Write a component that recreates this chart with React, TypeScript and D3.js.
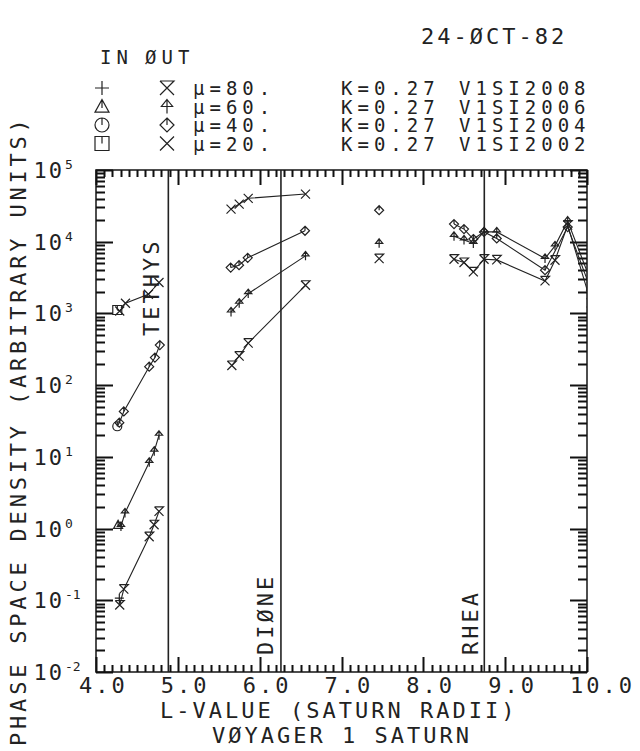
import React from "react";
import * as d3 from "d3";

// ---------- DATA ----------
const X_TICKS = [4, 5, 6, 7, 8, 9, 10];
const X_TICK_LABELS = ["4.0", "5.0", "6.0", "7.0", "8.0", "9.0", "10.0"];
const Y_DECADES = [-2, -1, 0, 1, 2, 3, 4, 5];

const MOON_NAMES = ["TETHYS", "DIØNE", "RHEA"];
const MOON_L = [4.884, 6.26, 8.745];

const LEGEND_MU = ["80.", "60.", "40.", "20."];
const LEGEND_K = ["0.27", "0.27", "0.27", "0.27"];
const LEGEND_ID = ["V1SI2008", "V1SI2006", "V1SI2004", "V1SI2002"];

// mu = 80
const MU80_TETHYS_L = [4.285, 4.29, 4.34, 4.65, 4.71, 4.77];
const MU80_TETHYS_V = [0.107, 0.086, 0.143, 0.77, 1.13, 1.74];
const MU80_DIONE_L = [5.66, 5.75, 5.86, 6.56];
const MU80_DIONE_V = [188, 254, 386, 2470];
const MU80_MID_L = [7.46];
const MU80_MID_V = [5800];
const MU80_RHEA_L = [8.375, 8.497, 8.611, 8.742, 8.897, 9.487, 9.609, 9.764, 10.05];
const MU80_RHEA_V = [5700, 5130, 3790, 5700, 5580, 2840, 5520, 17000, 1400];

// mu = 60
const MU60_TETHYS_L = [4.27, 4.305, 4.354, 4.651, 4.712, 4.77];
const MU60_TETHYS_V = [1.13, 1.07, 1.65, 8.4, 12, 20];
const MU60_DIONE_L = [5.65, 5.75, 5.86, 6.56];
const MU60_DIONE_V = [1047, 1387, 1890, 6350];
const MU60_MID_L = [7.46];
const MU60_MID_V = [9500];
const MU60_RHEA_L = [8.375, 8.497, 8.611, 8.742, 8.897, 9.487, 9.609, 9.764, 10.05];
const MU60_RHEA_V = [11900, 10600, 9460, 13700, 13700, 5840, 8750, 19400, 2760];

// mu = 40
const MU40_TETHYS_L = [4.26, 4.285, 4.34, 4.65, 4.72, 4.78];
const MU40_TETHYS_V = [26.7, 30, 43, 181, 242, 362];
const MU40_DIONE_L = [5.646, 5.748, 5.854, 6.554];
const MU40_DIONE_V = [4360, 4710, 5960, 14200];
const MU40_MID_L = [7.46];
const MU40_MID_V = [27500];
const MU40_RHEA_L = [8.375, 8.497, 8.611, 8.742, 8.897, 9.487, 9.764, 10.05];
const MU40_RHEA_V = [17600, 15000, 10900, 13700, 11100, 4010, 16000, 2100];

// mu = 20
const MU20_TETHYS_L = [4.26, 4.29, 4.36, 4.64, 4.77];
const MU20_TETHYS_V = [1117, 1082, 1387, 1850, 2700];
const MU20_DIONE_L = [5.65, 5.75, 5.86, 6.56];
const MU20_DIONE_V = [28500, 33500, 40300, 46200];

const SERIES = [
  { inShape: "plus", outShape: "hourglass", groups: [[MU80_TETHYS_L, MU80_TETHYS_V], [MU80_DIONE_L, MU80_DIONE_V], [MU80_MID_L, MU80_MID_V], [MU80_RHEA_L, MU80_RHEA_V]] },
  { inShape: "triangle", outShape: "arrow", groups: [[MU60_TETHYS_L, MU60_TETHYS_V], [MU60_DIONE_L, MU60_DIONE_V], [MU60_MID_L, MU60_MID_V], [MU60_RHEA_L, MU60_RHEA_V]] },
  { inShape: "circle", outShape: "diamond", groups: [[MU40_TETHYS_L, MU40_TETHYS_V], [MU40_DIONE_L, MU40_DIONE_V], [MU40_MID_L, MU40_MID_V], [MU40_RHEA_L, MU40_RHEA_V]] },
  { inShape: "square", outShape: "cross", groups: [[MU20_TETHYS_L, MU20_TETHYS_V], [MU20_DIONE_L, MU20_DIONE_V]] },
];

// ---------- LAYOUT ----------
const W = 640;
const H = 751;
const X0 = 96, X1 = 587, Y0 = 170, Y1 = 672;
const INK = "#222";
const FONT = "'DejaVu Sans Mono', monospace";

const x = d3.scaleLinear().domain([4, 10]).range([X0, X1]);
const y = d3.scaleLog().domain([1e-2, 1e5]).range([Y1, Y0]);

function markerPath(shape: string, s: number): string {
  switch (shape) {
    case "plus":
      return `M${-s},0H${s}M0,${-s}V${s}`;
    case "triangle":
      return `M0,${-s}L${s},${s * 0.8}L${-s},${s * 0.8}ZM0,${-s}V${s * 0.2}`;
    case "circle":
      return `M${s},0A${s},${s} 0 1,1 ${-s},0A${s},${s} 0 1,1 ${s},0ZM0,${-s}V0`;
    case "square":
      return `M${-s},${-s}H${s}V${s}H${-s}ZM0,${-s}V0`;
    case "hourglass":
      return `M${-s},${-s}H${s}L${-s},${s}M${-s},${-s}L${s},${s}`;
    case "arrow":
      return `M0,${-s}L${s * 0.8},0H${-s * 0.8}ZM0,${-s}V${s}`;
    case "diamond":
      return `M0,${-s}L${s},0L0,${s}L${-s},0ZM0,${-s}V0`;
    case "cross":
    default:
      return `M${-s},${-s}L${s},${s}M${s},${-s}L${-s},${s}`;
  }
}

const lineGen = d3
  .line<[number, number]>()
  .x((d) => x(d[0]))
  .y((d) => y(d[1]));

const X_MINOR = d3.range(41, 100).filter((i) => i % 10 !== 0).map((i) => i / 10);
const Y_MINOR = y.ticks().filter((v) => Math.abs(Math.log10(v) - Math.round(Math.log10(v))) > 1e-6);
const Y_MAJOR = Y_DECADES.map((d) => Math.pow(10, d));

function tickPathD(): string {
  const parts: string[] = [];
  X_MINOR.forEach((v) => {
    const xv = Math.round(x(v)) + 0.5;
    parts.push(`M${xv} ${Y1} L${xv} ${Y1 - 7}`, `M${xv} ${Y0} L${xv} ${Y0 + 7}`);
  });
  X_TICKS.forEach((v) => {
    const xv = Math.round(x(v)) + 0.5;
    parts.push(`M${xv} ${Y1} L${xv} ${Y1 - 15}`, `M${xv} ${Y0} L${xv} ${Y0 + 15}`);
  });
  Y_MINOR.forEach((v) => {
    const yv = Math.round(y(v)) + 0.5;
    parts.push(`M${X0} ${yv} L${X0 + 9} ${yv}`, `M${X1} ${yv} L${X1 - 9} ${yv}`);
  });
  Y_MAJOR.forEach((v) => {
    const yv = Math.round(y(v)) + 0.5;
    parts.push(`M${X0} ${yv} L${X0 + 17} ${yv}`, `M${X1} ${yv} L${X1 - 17} ${yv}`);
  });
  return parts.join(" ");
}

export default function App() {
  const textProps = {
    fontFamily: FONT,
    fontSize: 22,
    letterSpacing: 3,
    fill: INK,
  } as const;
  const legendText = {
    fontFamily: FONT,
    fontSize: 19,
    letterSpacing: 5,
    fill: INK,
  } as const;

  return (
    <svg
      width={W}
      height={H}
      viewBox={`0 0 ${W} ${H}`}
      style={{ position: "absolute", left: 0, top: 0, background: "#fff" }}
    >
      <rect x={0} y={0} width={W} height={H} fill="#fff" />
      <defs>
        <clipPath id="plotClip">
          <rect x={X0} y={Y0} width={X1 - X0} height={Y1 - Y0} />
        </clipPath>
      </defs>

      {/* frame */}
      <rect x={X0} y={Y0} width={X1 - X0} height={Y1 - Y0} fill="none" stroke={INK} strokeWidth={1.6} />

      {/* ticks */}
      <path d={tickPathD()} fill="none" stroke="#111" strokeWidth={2} />

      {/* x tick labels */}
      {X_TICKS.map((v, i) => (
        <text key={"xl" + v} x={x(v) - 17} y={693} {...textProps}>
          {X_TICK_LABELS[i]}
        </text>
      ))}

      {/* y tick labels */}
      {Y_DECADES.map((dd) => (
        <g key={"yl" + dd}>
          <text x={64} y={y(Math.pow(10, dd)) + 8} textAnchor="end" {...textProps} letterSpacing={2}>
            10
          </text>
          <text x={65} y={y(Math.pow(10, dd)) - 1} fontFamily={FONT} fontSize={13} fill={INK}>
            {String(dd)}
          </text>
        </g>
      ))}

      {/* axis titles */}
      <text x={160} y={718} {...textProps}>
        L-VALUE (SATURN RADII)
      </text>
      <text x={212} y={743} {...textProps}>
        VØYAGER 1 SATURN
      </text>
      <text transform={`translate(26,746) rotate(-90)`} {...textProps} letterSpacing={3.8}>
        PHASE SPACE DENSITY (ARBITRARY UNITS)
      </text>

      {/* moon lines */}
      {MOON_L.map((L, i) => (
        <line key={"moon" + i} x1={x(L)} x2={x(L)} y1={Y0} y2={Y1} stroke={INK} strokeWidth={1.6} />
      ))}
      <text transform={`translate(${x(MOON_L[0]) - 9},336) rotate(-90)`} {...textProps}>
        {MOON_NAMES[0]}
      </text>
      <text transform={`translate(${x(MOON_L[1]) - 8},655) rotate(-90)`} {...textProps}>
        {MOON_NAMES[1]}
      </text>
      <text transform={`translate(${x(MOON_L[2]) - 6},655) rotate(-90)`} {...textProps}>
        {MOON_NAMES[2]}
      </text>

      {/* data */}
      <g clipPath="url(#plotClip)">
        {SERIES.map((s, si) =>
          s.groups.map((g, gi) => {
            const pts: [number, number][] = g[0].map((L, k) => [L, g[1][k]]);
            return (
              <g key={`s${si}g${gi}`}>
                {pts.length > 1 && (
                  <path d={lineGen(pts) || ""} fill="none" stroke={INK} strokeWidth={1.1} />
                )}
                {pts.map((p, k) => (
                  <path
                    key={k}
                    transform={`translate(${x(p[0])},${y(p[1])})`}
                    d={markerPath(gi === 0 && k === 0 ? s.inShape : s.outShape, 4.5)}
                    fill="none"
                    stroke={INK}
                    strokeWidth={1.2}
                  />
                ))}
              </g>
            );
          })
        )}
      </g>

      {/* header / legend */}
      <text x={421} y={44} {...textProps}>
        24-ØCT-82
      </text>
      <text x={100} y={64} {...legendText}>
        IN
      </text>
      <text x={145} y={64} {...legendText}>
        ØUT
      </text>
      {SERIES.map((s, i) => {
        const ry = 88 + i * 18.5;
        return (
          <g key={"leg" + i}>
            <path transform={`translate(102,${ry})`} d={markerPath(s.inShape, 7)} fill="none" stroke={INK} strokeWidth={1.2} />
            <path transform={`translate(167,${ry})`} d={markerPath(s.outShape, 7)} fill="none" stroke={INK} strokeWidth={1.2} />
            <text x={193} y={ry + 7} {...legendText}>
              {"μ=" + LEGEND_MU[i]}
            </text>
            <text x={341} y={ry + 7} {...legendText}>
              {"K=" + LEGEND_K[i]}
            </text>
            <text x={459} y={ry + 7} {...legendText}>
              {LEGEND_ID[i]}
            </text>
          </g>
        );
      })}
    </svg>
  );
}
